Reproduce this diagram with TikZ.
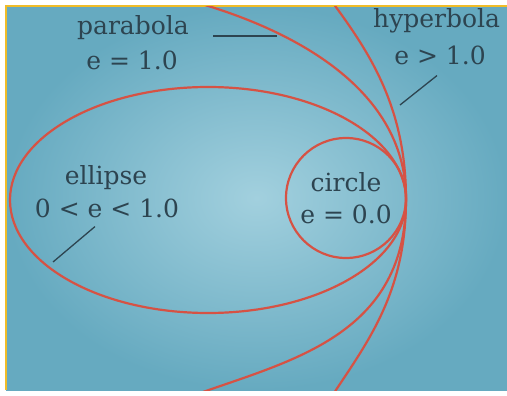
\documentclass[tikz,border=0pt]{standalone}
\usepackage{fontspec}
\setmainfont{DejaVu Serif}
\usetikzlibrary{positioning}
\definecolor{bgout}{RGB}{102,170,192}
\definecolor{bgin}{RGB}{162,208,222}
\definecolor{conicred}{RGB}{214,82,68}
\definecolor{inkgray}{RGB}{45,68,80}
\definecolor{frameyellow}{RGB}{240,188,40}
\begin{document}
\begin{tikzpicture}[x=1pt, y=-1pt,
  lbl/.style={inner sep=0pt, anchor=base, text=inkgray, font=\fontsize{25}{30}\selectfont},
  conic/.style={draw=conicred, line width=2.2pt},
  leader/.style={draw=inkgray, line width=1.3pt}]
\useasboundingbox (0,0) rectangle (507,396);
\fill[white] (0,0) rectangle (507,396);
\shade[inner color=bgin, outer color=bgout] (6,6) rectangle (507,390);
\draw[frameyellow, line width=1.6pt] (6,390) -- (6,6) -- (507,6);
% the four conics, all through the vertex on the right
\coordinate (vertex) at (406,199);
\begin{scope}
\clip (7,7) rectangle (507,390);
\draw[conic] (208,200) ellipse [x radius=198pt, y radius=113pt];
\draw[conic] (346,198) circle [radius=60pt];
% parabola
\draw[conic] (205,5) .. controls (281,28) and (406,83) .. (vertex)
  .. controls (406,332) and (297,359) .. (203,392);
% hyperbola
\draw[conic] (333,3) .. controls (369,52) and (406,107) .. (vertex)
  .. controls (406,291) and (369,340) .. (334,393);
\end{scope}
% labels
\node[lbl] (parab) at (133,35) {parabola};
\node[lbl] (parabe) at (132,70) {e = 1.0};
\node[lbl, anchor=base west] (hyper) at (373,28) {hyperbola};
\node[lbl] (hypere) at (440,65) {e > 1.0};
\node[lbl] (ell) at (106,185) {ellipse};
\node[lbl] (elle) at (107,218) {0 < e < 1.0};
\node[lbl] (circ) at (346,192) {circle};
\node[lbl] (circe) at (346,223) {e = 0.0};
% leader lines
\coordinate (parabtip) at (277,36);
\coordinate (hypertip) at (400,105);
\coordinate (elltip) at (53,262);
\draw[leader] ([xshift=24pt,yshift=-1pt]parab.base east) -- (parabtip);
\draw[leader] ([xshift=-3pt,yshift=-10pt]hypere.south) -- (hypertip);
\draw[leader] ([xshift=-12pt,yshift=-8pt]elle.south) -- (elltip);
\end{tikzpicture}
\end{document}
